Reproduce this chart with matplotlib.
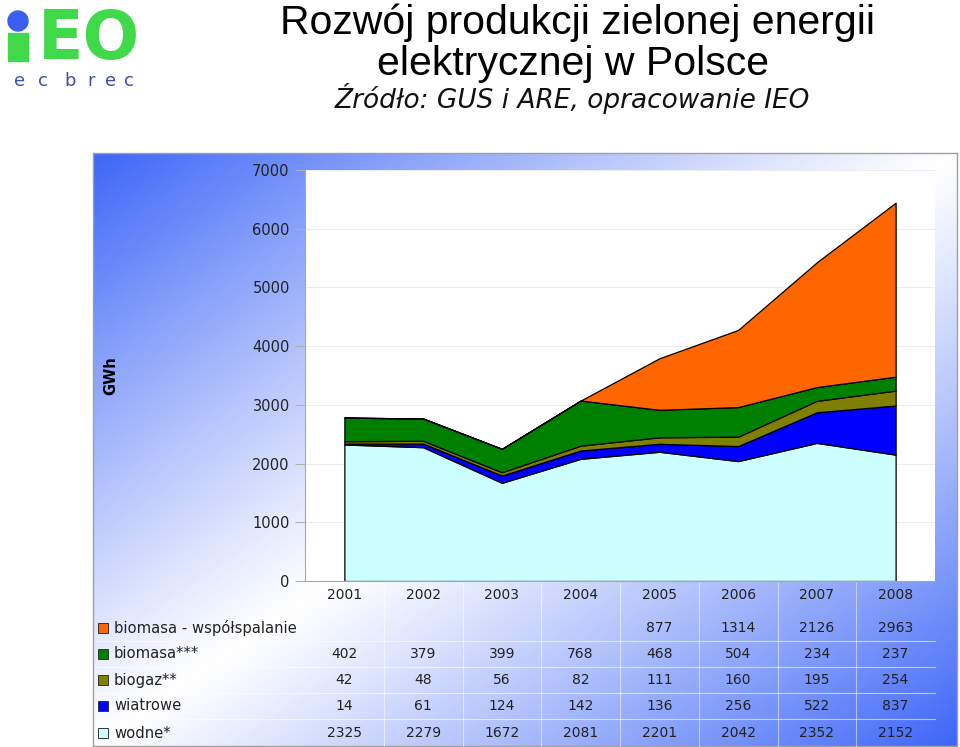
"""Rozwój produkcji zielonej energii elektrycznej w Polsce - stacked area + data table."""
import numpy as np
import matplotlib
matplotlib.use("Agg")
import matplotlib.pyplot as plt
import matplotlib.patches as mpatches
from matplotlib.transforms import blended_transform_factory

years = ["2001", "2002", "2003", "2004", "2005", "2006", "2007", "2008"]

# None = no value in the table (treated as 0 in the stack)
wspolspalanie = [None, None, None, None, 877, 1314, 2126, 2963]
biomasa = [402, 379, 399, 768, 468, 504, 234, 237]
biogaz = [42, 48, 56, 82, 111, 160, 195, 254]
wiatrowe = [14, 61, 124, 142, 136, 256, 522, 837]
wodne = [2325, 2279, 1672, 2081, 2201, 2042, 2352, 2152]

labels = ["biomasa - współspalanie", "biomasa***", "biogaz**", "wiatrowe", "wodne*"]
colors = ["#FF6600", "#008000", "#808000", "#0000FF", "#CCFFFF"]
yticks = [0, 1000, 2000, 3000, 4000, 5000, 6000, 7000]

FONT = "DejaVu Sans"
TXT = "#222222"

fig = plt.figure(figsize=(9.6, 7.47), dpi=100)
W, H = 960, 747


def frac(x0, y0, x1, y1):
    # pixel box (top-left origin) -> figure fraction rect
    return [x0 / W, 1 - y1 / H, (x1 - x0) / W, (y1 - y0) / H]


# background gradient frame
bg = fig.add_axes(frac(93, 153, 957, 746))
u, v = np.meshgrid(np.linspace(0, 1, 400), np.linspace(0, 1, 300))
s = np.clip(np.abs(u + v - 1), 0, 1) ** 1.1
blue = np.array([0.24, 0.40, 0.97])
img = 1 - s[..., None] * (1 - blue)
bg.imshow(img, aspect="auto", extent=(0, 1, 1, 0), interpolation="bilinear")
bg.set_xticks([]); bg.set_yticks([])
for sp in bg.spines.values():
    sp.set_color("#a0a0a0"); sp.set_linewidth(1)

# faint table grid lines (bg y runs top->bottom)
for yy in [641, 667, 693, 719]:
    bg.axhline((yy - 153) / (746 - 153), xmin=0.0, xmax=(935 - 93) / 864,
               color="white", lw=0.8, alpha=0.6)

# main chart
ax = fig.add_axes(frac(305, 170, 935, 581))
ax.set_facecolor("white")
x = np.arange(len(years))
stack = [wodne, wiatrowe, biogaz, biomasa, [0 if v is None else v for v in wspolspalanie]]
ax.stackplot(x, *stack, colors=colors[::-1], edgecolor="black", linewidth=0.9)
ax.set_xlim(-0.5, len(years) - 0.5)
ax.set_ylim(0, 7000)
ax.set_yticks(yticks)
ax.set_yticklabels([str(t) for t in yticks], fontsize=10.5, family=FONT, color=TXT)
ax.tick_params(axis="y", length=7, color="#b0b0b0", pad=4)
ax.set_xticks([])
ax.grid(axis="y", color="#ececec", lw=0.8)
ax.set_axisbelow(True)
for side in ["top", "right"]:
    ax.spines[side].set_visible(False)
for side in ["left", "bottom"]:
    ax.spines[side].set_color("#a8a8a8")
ax.set_ylabel("GWh", fontsize=10.5, fontweight="bold", family=FONT, labelpad=0)
ax.yaxis.set_label_coords(-0.297, 0.5)

# data table below the chart, columns on the chart's x scale
tr = blended_transform_factory(ax.transData, fig.transFigure)
for xi, yr in zip(x, years):
    ax.text(xi, 1 - 595 / H, yr, transform=tr, ha="center", va="center",
            fontsize=10, family=FONT, color=TXT)
for k in range(1, len(years)):
    ax.plot([k - 0.5, k - 0.5], [0.0015, 1 - 583 / H], transform=tr, color="white",
            lw=0.8, alpha=0.5, clip_on=False)

rows = [wspolspalanie, biomasa, biogaz, wiatrowe, wodne]
row_y = [628, 654, 680, 706, 733]
for lab, col, vals, yy in zip(labels, colors, rows, row_y):
    yf = 1 - yy / H
    fig.patches.append(mpatches.Rectangle((98 / W, yf - 5 / H), 10 / W, 10 / H,
                                          transform=fig.transFigure, facecolor=col,
                                          edgecolor="#333333", lw=0.7))
    fig.text(114 / W, yf, lab, ha="left", va="center", fontsize=10.6, family=FONT, color=TXT)
    for xi, val in zip(x, vals):
        if val is not None:
            ax.text(xi, yf, str(val), transform=tr, ha="center", va="center",
                    fontsize=10, family=FONT, color=TXT)

# titles
fig.text(578 / W, 1 - 23 / H, "Rozwój produkcji zielonej energii", ha="center", va="center",
         fontsize=29.5, family="Liberation Sans", color="black")
fig.text(573 / W, 1 - 64 / H, "elektrycznej w Polsce", ha="center", va="center",
         fontsize=29.5, family="Liberation Sans", color="black")
fig.text(572 / W, 1 - 98 / H, "Źródło: GUS i ARE, opracowanie IEO", ha="center", va="center",
         fontsize=19, family=FONT, style="italic", color="#111111")

# logo
lg = fig.add_axes(frac(0, 0, 150, 100))
lg.set_xlim(0, 150); lg.set_ylim(100, 0); lg.axis("off")
green = "#3fd94a"
lg.add_patch(mpatches.Rectangle((8, 33), 20, 28, color=green))
lg.add_patch(mpatches.Circle((18, 21), 10, color="#3a5ff0"))
lg.text(38, 40, "EO", ha="left", va="center", fontsize=48, fontweight="heavy",
        family="DejaVu Sans", color=green)
for lx, ch in zip([20, 43, 70, 91, 111, 129], "ecbrec"):
    lg.text(lx, 81, ch, ha="center", va="center", fontsize=13, family=FONT, color="#3a4fb0")

fig.savefig("out.png", dpi=100)
